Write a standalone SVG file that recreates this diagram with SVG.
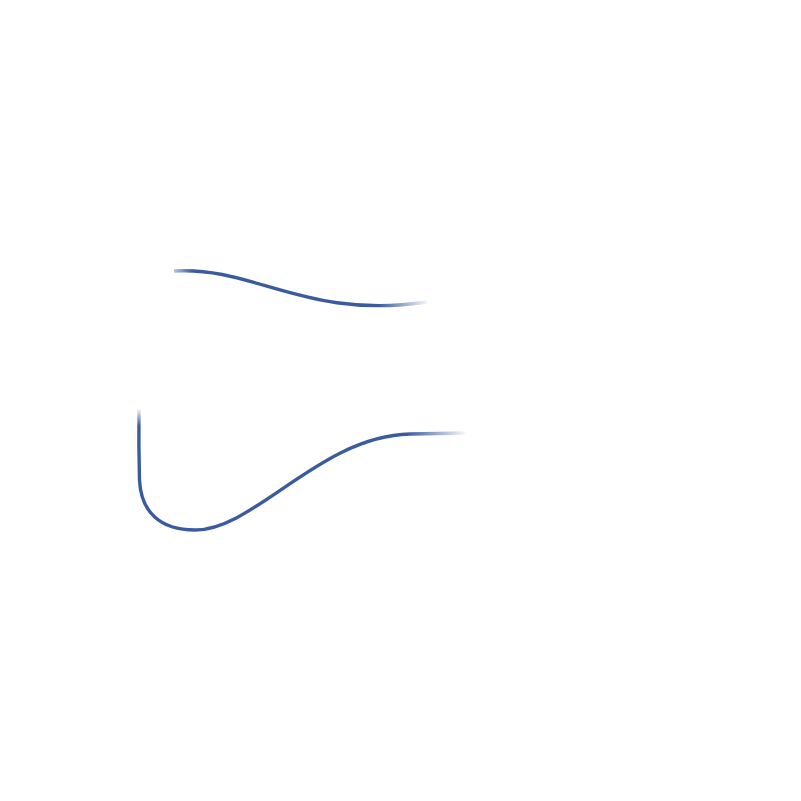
<svg xmlns="http://www.w3.org/2000/svg" width="801" height="801" viewBox="0 0 801 801">
<style>
.edge{fill:none;stroke-width:3.4;stroke-linecap:butt}
</style>
<defs>
<linearGradient id="g1" gradientUnits="userSpaceOnUse" x1="172" y1="0" x2="430" y2="0">
<stop offset="0" stop-color="#3a5ba0" stop-opacity="0.3"/>
<stop offset="0.08" stop-color="#3a5ba0" stop-opacity="1"/>
<stop offset="0.8" stop-color="#3a5ba0" stop-opacity="1"/>
<stop offset="1" stop-color="#3a5ba0" stop-opacity="0"/>
</linearGradient>
<linearGradient id="g2a" gradientUnits="userSpaceOnUse" x1="0" y1="408" x2="0" y2="480">
<stop offset="0" stop-color="#3a5ba0" stop-opacity="0"/>
<stop offset="0.25" stop-color="#3a5ba0" stop-opacity="1"/>
<stop offset="1" stop-color="#3a5ba0" stop-opacity="1"/>
</linearGradient>
<linearGradient id="g2b" gradientUnits="userSpaceOnUse" x1="130" y1="0" x2="468" y2="0">
<stop offset="0" stop-color="#3a5ba0" stop-opacity="1"/>
<stop offset="0.82" stop-color="#3a5ba0" stop-opacity="1"/>
<stop offset="1" stop-color="#3a5ba0" stop-opacity="0"/>
</linearGradient>
</defs>
<rect width="801" height="801" fill="#ffffff"/>
<g id="connectors">
<path class="edge" stroke="url(#g1)" d="M174,271 C255,266 305,320 427,302"/>
<path class="edge" stroke="url(#g2a)" d="M139,409 C138.6,440 139,462 139.5,480"/>
<path class="edge" stroke="url(#g2b)" d="M139.5,480 C141,512 160,530 195,530 C255,530 320,436 410,434 L466,433"/>
</g>
</svg>
